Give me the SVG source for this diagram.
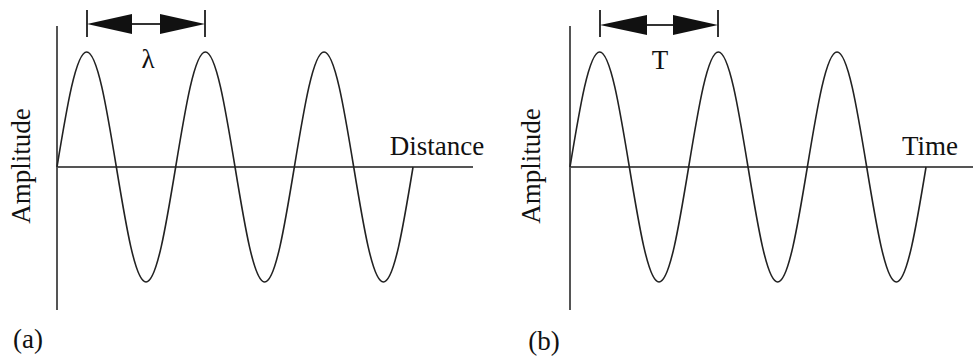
<svg xmlns="http://www.w3.org/2000/svg" width="974" height="360" viewBox="0 0 974 360">
<defs>
<style>
.axis{stroke:#555;stroke-width:2;fill:none}
.wave{stroke:#222;stroke-width:1.6;fill:none;stroke-linejoin:round}
.dim{stroke:#333;stroke-width:2;fill:none}
.head{fill:#111;stroke:none}
.lbl{font-family:"Liberation Serif","Times New Roman",serif;font-size:27px;fill:#111}
</style>
<path id="sine" d="M0,0 c9.68,-58.9 18.93,-115 29.67,-115 c10.74,0 19.99,56.1 29.67,115 c9.68,58.9 18.93,115 29.67,115 c10.74,0 19.99,-56.1 29.67,-115 c9.68,-58.9 18.93,-115 29.67,-115 c10.74,0 19.99,56.1 29.67,115 c9.68,58.9 18.93,115 29.67,115 c10.74,0 19.99,-56.1 29.67,-115 c9.68,-58.9 18.93,-115 29.67,-115 c10.74,0 19.99,56.1 29.67,115 c9.68,58.9 18.93,115 29.67,115 c10.74,0 19.99,-56.1 29.67,-115"/>
</defs>
<rect width="974" height="360" fill="#fff"/>
<g id="panel-a">
<line class="axis" x1="57" y1="26" x2="57" y2="310"/>
<line class="axis" x1="57" y1="167" x2="473" y2="167"/>
<use href="#sine" class="wave" transform="translate(57,167)"/>
<g id="wavelength-marker">
<line class="dim" x1="87" y1="10" x2="87" y2="37"/>
<line class="dim" x1="205" y1="10" x2="205" y2="37"/>
<line class="dim" x1="130" y1="24" x2="162" y2="24"/>
<polygon class="head" points="87,24 132,14 132,34"/>
<polygon class="head" points="205,24 160,14 160,34"/>
</g>
<text class="lbl" x="148" y="68" text-anchor="middle">λ</text>
<text class="lbl" x="437" y="155" text-anchor="middle">Distance</text>
<text class="lbl" transform="translate(30,166) rotate(-90)" text-anchor="middle">Amplitude</text>
<text class="lbl" x="28" y="348" text-anchor="middle">(a)</text>
</g>
<g id="panel-b">
<line class="axis" x1="570" y1="26" x2="570" y2="310"/>
<line class="axis" x1="570" y1="167" x2="973" y2="167"/>
<use href="#sine" class="wave" transform="translate(570,167)"/>
<g id="period-marker">
<line class="dim" x1="600" y1="10" x2="600" y2="37"/>
<line class="dim" x1="718" y1="10" x2="718" y2="37"/>
<line class="dim" x1="645" y1="25" x2="675" y2="25"/>
<polygon class="head" points="600,25 647,15 647,35"/>
<polygon class="head" points="718,25 673,15 673,35"/>
</g>
<text class="lbl" x="660" y="69" text-anchor="middle">T</text>
<text class="lbl" x="930" y="155" text-anchor="middle">Time</text>
<text class="lbl" transform="translate(540,166) rotate(-90)" text-anchor="middle">Amplitude</text>
<text class="lbl" x="544" y="350" text-anchor="middle">(b)</text>
</g>
</svg>
